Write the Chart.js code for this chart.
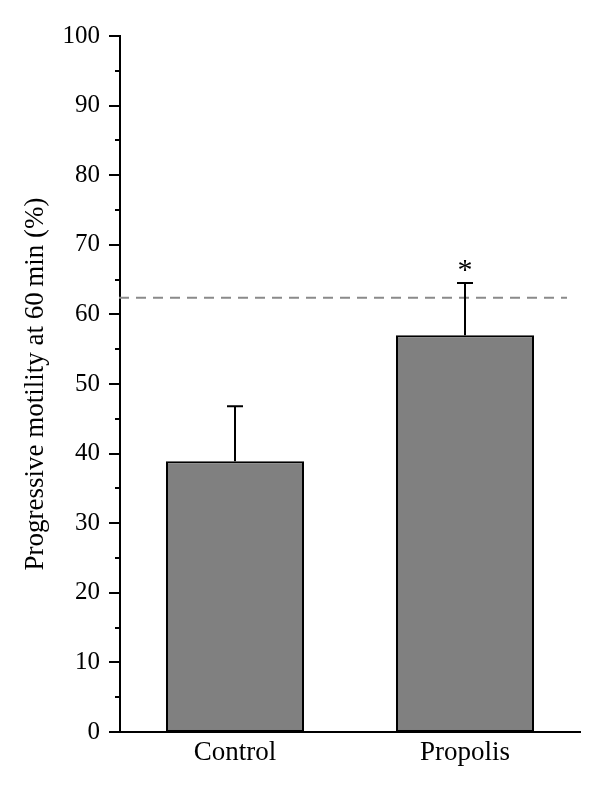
<!DOCTYPE html>
<html>
<head>
<meta charset="utf-8">
<script src="https://cdn.jsdelivr.net/npm/chart.js@4/dist/chart.umd.min.js"></script>
<style>
  html, body { margin: 0; padding: 0; background: #fff; }
  #wrap { width: 600px; height: 795px; }
</style>
</head>
<body>
<div id="wrap"><canvas id="chart" width="600" height="795"></canvas></div>
<script>
/* ---------- Data ---------- */
const categories = ['Control', 'Propolis'];
const meanValues = [38.9, 57.0];
const errorValues = [7.9, 7.5];
const significance = ['', '*'];
const referenceValue = 62.4;
const yMin = 0;
const yMax = 100;
const majorStep = 10;
const minorStep = 5;

const SERIF = "'Liberation Serif', 'DejaVu Serif', serif";

// y-axis tick marks (major + minor), drawn through the y scale
const axisTicks = {
  id: 'axisTicks',
  afterDraw(chart) {
    const { ctx, scales: { y }, chartArea } = chart;
    ctx.save();
    ctx.strokeStyle = '#000';
    ctx.lineWidth = 2;
    for (let v = yMin; v <= yMax; v += minorStep) {
      const py = Math.round(y.getPixelForValue(v));
      const len = v % majorStep === 0 ? 11 : 5;
      ctx.beginPath();
      ctx.moveTo(chartArea.left - len, py);
      ctx.lineTo(chartArea.left, py);
      ctx.stroke();
    }
    ctx.restore();
  }
};

// reference dashed line, error bars and significance marks
const overlays = {
  id: 'overlays',
  afterDatasetsDraw(chart) {
    const { ctx, scales: { y }, chartArea } = chart;
    const meta = chart.getDatasetMeta(0);
    ctx.save();

    // dashed reference line
    const ry = y.getPixelForValue(referenceValue);
    ctx.strokeStyle = '#8a8a8a';
    ctx.lineWidth = 2;
    ctx.setLineDash([10, 7]);
    ctx.beginPath();
    ctx.moveTo(chartArea.left - 1, ry);
    ctx.lineTo(chartArea.right - 13, ry);
    ctx.stroke();
    ctx.setLineDash([]);

    // upper error bars
    ctx.strokeStyle = '#000';
    ctx.lineWidth = 2;
    meta.data.forEach((bar, i) => {
      const x = bar.x;
      const top = y.getPixelForValue(meanValues[i] + errorValues[i]);
      const base = y.getPixelForValue(meanValues[i]);
      ctx.beginPath();
      ctx.moveTo(x, base);
      ctx.lineTo(x, top);
      ctx.moveTo(x - 8, top);
      ctx.lineTo(x + 8, top);
      ctx.stroke();

      if (significance[i]) {
        ctx.fillStyle = '#000';
        ctx.font = '30px ' + SERIF;
        ctx.textAlign = 'center';
        ctx.textBaseline = 'middle';
        ctx.fillText(significance[i], x, top - 12);
      }
    });
    ctx.restore();
  }
};

new Chart(document.getElementById('chart'), {
  type: 'bar',
  data: {
    labels: categories,
    datasets: [{
      data: meanValues,
      backgroundColor: '#808080',
      borderColor: '#000',
      borderWidth: 2,
      borderSkipped: false,
      barPercentage: 0.6,
      categoryPercentage: 1.0
    }]
  },
  options: {
    responsive: false,
    animation: false,
    layout: { padding: { top: 36, right: 20, left: 0, bottom: 0 } },
    plugins: {
      legend: { display: false },
      tooltip: { enabled: false }
    },
    scales: {
      x: {
        grid: { display: false, drawTicks: false },
        border: { display: true, color: '#000', width: 2 },
        ticks: {
          color: '#000',
          padding: 5,
          font: { family: SERIF, size: 27 }
        },
        afterFit(scale) { scale.height = 63; }
      },
      y: {
        min: yMin,
        max: yMax,
        grid: { color: 'rgba(0,0,0,0)', drawOnChartArea: false, tickLength: 10 },
        border: { display: true, color: '#000', width: 2 },
        ticks: {
          stepSize: majorStep,
          color: '#000',
          padding: 10,
          font: { family: SERIF, size: 25 }
        },
        title: {
          display: true,
          text: 'Progressive motility at 60\u2009min (%)',
          color: '#000',
          font: { family: SERIF, size: 27 },
          padding: { top: 20, bottom: 0 }
        },
        afterFit(scale) { scale.width = 120; }
      }
    }
  },
  plugins: [axisTicks, overlays]
});
</script>
</body>
</html>
